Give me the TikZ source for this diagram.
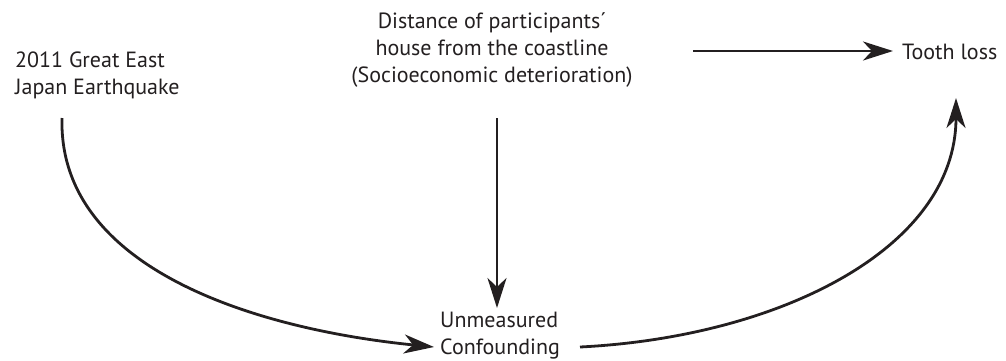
\documentclass[tikz,border=0pt]{standalone}
\usepackage{fontspec}
\setmainfont{PT Sans}
\usetikzlibrary{arrows.meta,calc}
\definecolor{ink}{HTML}{231F20}
\begin{document}
\begin{tikzpicture}[x=1pt,y=-1pt,
  lbl/.style={inner sep=0pt,text=ink,font=\fontsize{22}{27}\selectfont},
  link/.style={draw=ink,line width=2.8pt,-{Stealth[length=30pt,width=19pt,inset=9pt]}}]
\useasboundingbox (0,0) rectangle (1006,360);
\node[lbl,align=left,anchor=north west] (quake) at (15,52) {2011 Great East\\Japan Earthquake};
\node[lbl,align=center,anchor=north] (dist) at (492,12) {Distance of participants´\\house from the coastline\\(Socioeconomic deterioration)};
\node[lbl,anchor=west] (tooth) at (902,52) {Tooth loss};
\node[lbl,align=left,anchor=north west] (conf) at (440,312) {Unmeasured\\Confounding};
% exposure -> outcome
\draw[link] ($(tooth.west)+(-209,-1)$) -- ($(tooth.west)+(-9,-1)$);
% exposure -> confounder
\draw[link] ($(conf.north west)+(57,-194)$) -- ($(conf.north west)+(57,-4)$);
% earthquake -> confounder
\draw[link] ($(quake.north west)+(47,66)$) .. controls +(-4,150) and +(-180,-18) .. ($(conf.north west)+(-6,35)$);
% confounder -> tooth loss
\draw[link] ($(conf.north west)+(140,35)$) .. controls +(200,-10) and +(0,150) .. ($(tooth.west)+(54,46)$);
\end{tikzpicture}
\end{document}
